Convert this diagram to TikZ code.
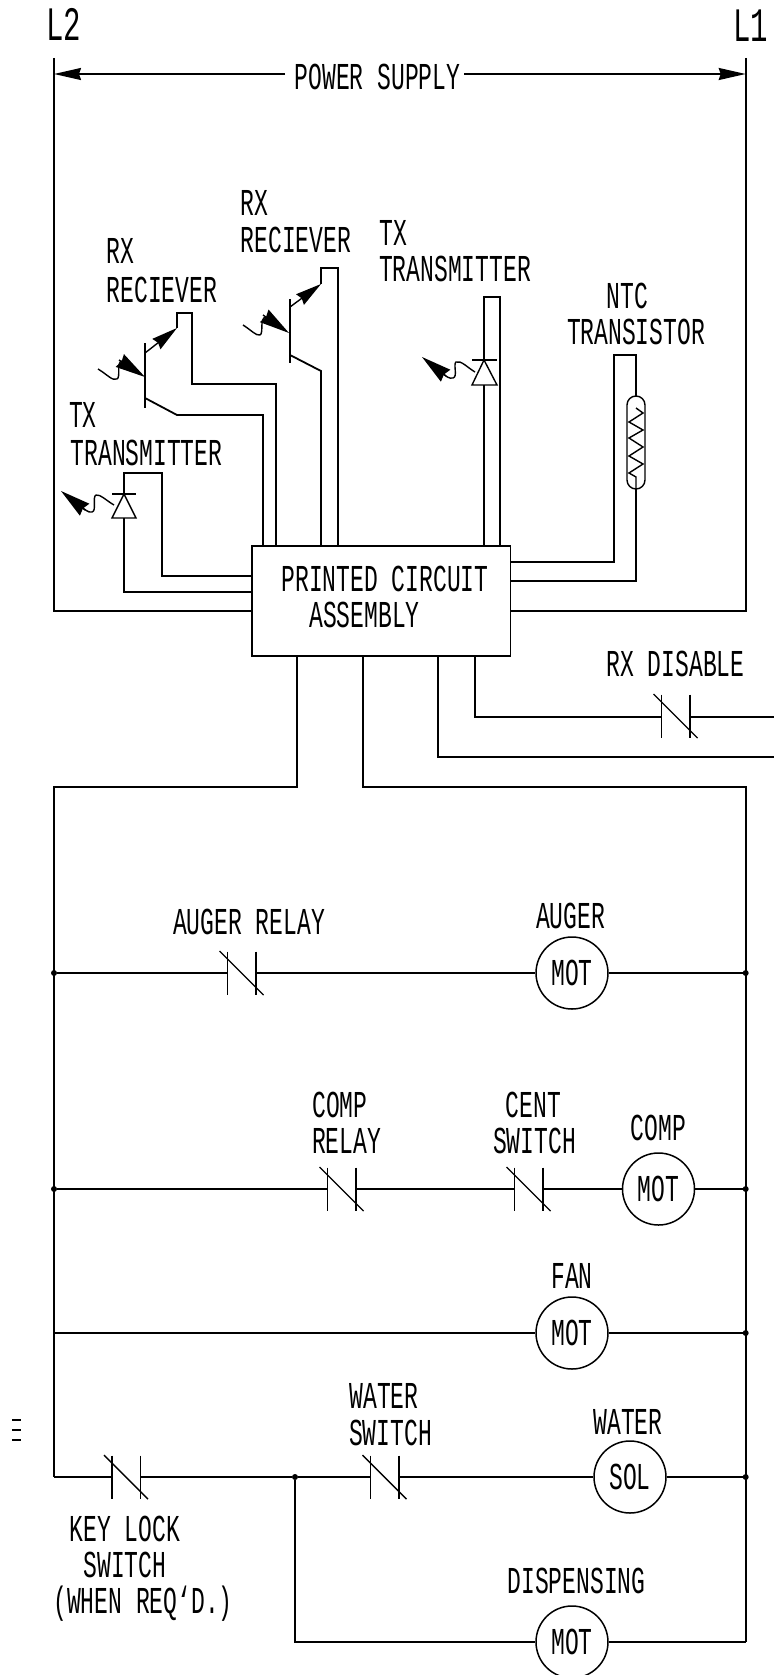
\documentclass[tikz,border=0pt]{standalone}
\usepackage{fontspec}
\setmainfont{Liberation Mono}[FakeStretch=0.605]
\usetikzlibrary{arrows.meta}
\tikzset{
  wire/.style={line width=1.8pt,line join=miter},
  thinw/.style={line width=1.4pt},
  lbl/.style={anchor=base,inner sep=0pt,font=\fontsize{38}{38}\selectfont},
  biglbl/.style={anchor=base,inner sep=0pt,font=\fontsize{48}{48}\selectfont},
  motor/.style={circle,draw,line width=1.5pt,minimum size=72pt,inner sep=0pt,font=\fontsize{38}{38}\selectfont},
  pcbbox/.style={rectangle,draw,line width=1.7pt,minimum width=258.5pt,minimum height=110pt,inner sep=0pt},
  dotj/.style={circle,fill,inner sep=0pt,minimum size=6pt},
  bigtip/.style={-{Stealth[length=27pt,width=12pt,inset=2pt]}},
  lighttip/.style={-{Stealth[length=30pt,width=15pt,inset=2pt]},thinw},
  coltip/.style={-{Stealth[length=26pt,width=13pt,inset=2pt]},thinw}
}
\newcommand{\nc}[3]{% normally closed contact: name, x, y
  \coordinate (#1W) at (#2-14,#3);
  \coordinate (#1E) at (#2+14.5,#3);
  \draw[thinw] (#2-14,#3-21.5) -- (#2-14,#3+21.5);
  \draw[thinw] (#2+14.5,#3-21.5) -- (#2+14.5,#3+21.5);
  \draw[thinw] (#2-22,#3-22) -- (#2+22,#3+22);
}
\begin{document}
\begin{tikzpicture}[x=1pt,y=-1pt]
\useasboundingbox[fill=white] (0,0) rectangle (774,1675);

% PCB
\node[pcbbox] (pcb) at (381.3,601) {};
\node[lbl] (tp1) at (385,591) {PRINTED CIRCUIT};
\node[lbl] (tp2) at (364.5,627) {ASSEMBLY};

% Power supply
\node[biglbl] (tl2) at (63.5,41) {L2};
\node[biglbl] (tl1) at (750.5,42) {L1};
\node[lbl] (tps) at (377.5,90) {POWER SUPPLY};
\coordinate (railLT) at (54,58);
\coordinate (railRT) at (745.7,58);
\coordinate (railLB) at (54,611);
\coordinate (railRB) at (745.7,611);
\coordinate (pL611) at (252,611);
\coordinate (pR611) at (510,611);
\coordinate (arL) at (54,74);
\coordinate (arR) at (745.7,74);
\coordinate (ar1) at (285,74);
\coordinate (ar2) at (464,74);
\draw[wire] (railLT) -- (railLB) -- (pL611);
\draw[wire] (railRT) -- (railRB) -- (pR611);
\draw[wire,bigtip] (ar1) -- (arL);
\draw[wire,bigtip] (ar2) -- (arR);

% RX 1
\node[lbl] (t1a) at (120.5,263) {RX};
\node[lbl] (t1b) at (162,302) {RECIEVER};
\coordinate (q1T) at (145,343);
\coordinate (q1B) at (145,408);
\coordinate (q1C) at (145,353);
\coordinate (q1Ca) at (177,328);
\coordinate (q1E) at (145,398);
\draw[wire] (q1T) -- (q1B);
\draw[coltip] (q1C) -- (q1Ca);
\draw[wire] (q1Ca) -- (177,313) -- (192,313) -- (192,384) -- (276,384) -- (276,546);
\draw[wire] (q1E) -- (177,415) -- (263,415) -- (263,546);
\draw[thinw] (98,369) .. controls (108,375) and (112,381) .. (117,379) .. controls (121,377) and (116,362) .. (122,361);
\draw[lighttip] (119,360) -- (145,377);

% RX 2
\node[lbl] (t2a) at (254.5,215) {RX};
\node[lbl] (t2b) at (296,252) {RECIEVER};
\coordinate (q2T) at (290,299);
\coordinate (q2B) at (290,363);
\coordinate (q2C) at (290,307);
\coordinate (q2Ca) at (321,284);
\coordinate (q2E) at (290,355);
\draw[wire] (q2T) -- (q2B);
\draw[coltip] (q2C) -- (q2Ca);
\draw[wire] (q2Ca) -- (321,268) -- (338,268) -- (338,546);
\draw[wire] (q2E) -- (321,371) -- (321,546);
\draw[thinw] (243,325) .. controls (251,330) and (256,336) .. (260,335) .. controls (264,333) and (259,318) .. (266,317);
\draw[lighttip] (263,315) -- (289,333);

% TX right
\node[lbl] (t3a) at (393,245) {TX};
\node[lbl] (t3b) at (455,281) {TRANSMITTER};
\draw[wire] (484,546) -- (484,385);
\draw[wire] (484,360) -- (484,297) -- (500,297) -- (500,546);
\draw[thinw] (472,360) -- (497,360);
\draw[thinw] (484,360) -- (472,385) -- (497,385) -- cycle;
\draw[thinw] (475,372) .. controls (468,368) and (461,360) .. (456,362) .. controls (453,364) and (458,377) .. (453,378) .. controls (449,379) and (446,376) .. (443,374);
\draw[lighttip] (446,376) -- (422,357);

% NTC
\node[lbl] (t4a) at (627.5,308) {NTC};
\node[lbl] (t4b) at (636,344) {TRANSISTOR};
\draw[wire] (510,562) -- (614,562) -- (614,355) -- (636,355) -- (636,396);
\draw[wire] (510,581) -- (636,581) -- (636,489);
\draw[thinw,rounded corners=9pt] (627,396) rectangle (645,489);
\draw[thinw] (636,408) -- (643,413) -- (629,422) -- (643,430) -- (629,438) -- (643,447) -- (629,456) -- (643,464) -- (629,473) -- (636,477) -- (636,489);

% TX left
\node[lbl] (t5a) at (83,427) {TX};
\node[lbl] (t5b) at (146.5,465) {TRANSMITTER};
\draw[wire] (252,592) -- (124,592) -- (124,518);
\draw[wire] (124,494) -- (124,473) -- (162,473) -- (162,576) -- (252,576);
\draw[thinw] (112,494) -- (136,494);
\draw[thinw] (124,494) -- (112,518) -- (136,518) -- cycle;
\draw[thinw] (114,505) .. controls (107,501) and (100,494) .. (96,495) .. controls (92,497) and (97,511) .. (92,512) .. controls (88,513) and (85,509) .. (81,507);
\draw[lighttip] (85,510) -- (61,491);

% Lower wires from PCB
\node[lbl] (t6) at (675.5,676) {RX DISABLE};
\nc{rxd}{675.5}{716}
\draw[wire] (475,656) -- (475,717) -- (661.5,717);
\draw[wire] (690,717) -- (774,717);
\draw[wire] (438,656) -- (438,757) -- (774,757);
\coordinate (railL2T) at (54,787);
\coordinate (railR2T) at (745.7,787);
\coordinate (railL2B) at (54,1477);
\coordinate (railR2B) at (745.7,1642);
\draw[wire] (297,656) -- (297,787) -- (railL2T) -- (railL2B);
\draw[wire] (362.7,656) -- (362.7,787) -- (railR2T) -- (railR2B);

% Auger rung
\node[lbl] (t7) at (249,934) {AUGER RELAY};
\node[lbl] (t8) at (570.5,928) {AUGER};
\node[motor] (mA) at (572,973) {\raisebox{-2.5pt}{MOT}};
\nc{swA}{241.5}{973}
\node[dotj] (dA1) at (54,973) {};
\node[dotj] (dA2) at (745.7,973) {};
\draw[wire] (dA1) -- (swAW);
\draw[wire] (swAE) -- (mA);
\draw[wire] (mA) -- (dA2);

% Comp rung
\node[lbl] (t9a) at (340,1117) {COMP};
\node[lbl] (t9b) at (346.5,1153) {RELAY};
\node[lbl] (t10a) at (533.5,1117) {CENT};
\node[lbl] (t10b) at (534.5,1153) {SWITCH};
\node[lbl] (t11) at (658.5,1140) {COMP};
\nc{swB}{341.5}{1189}
\nc{swC}{528.5}{1189}
\node[motor] (mC) at (658.5,1189) {\raisebox{-2.5pt}{MOT}};
\node[dotj] (dC1) at (54,1189) {};
\node[dotj] (dC2) at (745.7,1189) {};
\draw[wire] (dC1) -- (swBW);
\draw[wire] (swBE) -- (swCW);
\draw[wire] (swCE) -- (mC);
\draw[wire] (mC) -- (dC2);

% Fan rung
\node[lbl] (t12) at (572,1288) {FAN};
\node[motor] (mF) at (572,1333) {\raisebox{-2.5pt}{MOT}};
\node[dotj] (dF2) at (745.7,1333) {};
\coordinate (dF1) at (54,1333);
\draw[wire] (dF1) -- (mF);
\draw[wire] (mF) -- (dF2);

% Water rung
\node[lbl] (t13a) at (384,1408) {WATER};
\node[lbl] (t13b) at (390.5,1445) {SWITCH};
\node[lbl] (t14) at (628,1434) {WATER};
\node[motor] (mW) at (630,1477) {\raisebox{-2.5pt}{SOL}};
\nc{swK}{126}{1477}
\nc{swW}{384.5}{1477}
\node[dotj] (dW1) at (295,1477) {};
\node[dotj] (dW2) at (745.7,1477) {};
\draw[wire] (railL2B) -- (swKW);
\draw[wire] (swKE) -- (dW1);
\draw[wire] (dW1) -- (swWW);
\draw[wire] (swWE) -- (mW);
\draw[wire] (mW) -- (dW2);

\node[lbl] (t15a) at (125,1541) {KEY LOCK};
\node[lbl] (t15b) at (125,1577) {SWITCH};
\node[lbl] (t15c) at (143,1613) {(WHEN REQ`D.)};

% Dispensing
\node[lbl] (t16) at (576.5,1593) {DISPENSING};
\node[motor] (mD) at (572,1642) {\raisebox{-2.5pt}{MOT}};
\draw[wire] (dW1) -- (295,1642) -- (mD);
\draw[wire] (mD) -- (railR2B);

% stray mark
\draw[thinw] (12,1420) -- (21,1420) (12,1430) -- (21,1430) (12,1440) -- (21,1440);
\end{tikzpicture}
\end{document}
